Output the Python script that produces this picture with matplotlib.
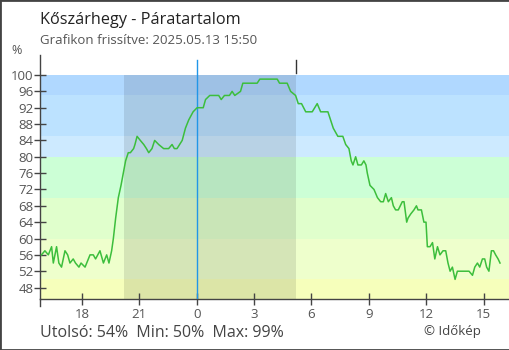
import matplotlib
matplotlib.use("Agg")
import numpy as np
from matplotlib import pyplot as plt
from matplotlib.patches import Rectangle

plt.rcParams["font.family"] = ["Open Sans", "DejaVu Sans"]

# hours relative to midnight, relative humidity in %
hours = [-8.12, -7.94, -7.76, -7.59, -7.50, -7.33, -7.21, -7.07, -6.89, -6.75,
         -6.63, -6.46, -6.34, -6.16, -6.05, -5.84, -5.58, -5.41, -5.29, -5.06,
         -4.88, -4.71, -4.59, -4.45, -4.36, -4.24, -4.10, -3.96, -3.84, -3.72,
         -3.58, -3.47, -3.30, -3.23, -3.12, -2.95, -2.77, -2.63, -2.51, -2.34,
         -2.20, -1.99, -1.73, -1.47, -1.29, -1.17, -1.03, -0.76, -0.59, -0.42,
         -0.19, 0.02, 0.34, 0.46, 0.68, 1.15, 1.28, 1.45, 1.71, 1.85,
         1.99, 2.29, 2.41, 3.16, 3.30, 4.21, 4.33, 4.73, 4.91, 5.17,
         5.31, 5.48, 5.70, 6.04, 6.30, 6.48, 6.86, 7.00, 7.14, 7.26,
         7.38, 7.64, 7.79, 7.96, 8.08, 8.17, 8.31, 8.43, 8.61, 8.74,
         8.85, 8.92, 9.06, 9.27, 9.45, 9.62, 9.76, 9.88, 10.02, 10.18,
         10.28, 10.40, 10.54, 10.75, 10.84, 10.98, 11.05, 11.19, 11.36, 11.49,
         11.57, 11.75, 11.88, 11.99, 12.06, 12.20, 12.33, 12.45, 12.59, 12.72,
         12.88, 13.02, 13.14, 13.25, 13.37, 13.51, 13.63, 14.24, 14.42, 14.54,
         14.68, 14.80, 14.94, 15.06, 15.16, 15.28, 15.41, 15.52, 15.63, 15.76,
         15.86]
humidity = [56, 57, 56, 58, 54, 58, 54, 53, 57, 56,
            54, 55, 54, 53, 54, 53, 56, 56, 55, 57,
            54, 56, 54, 57, 60, 65, 70, 73, 76, 79,
            81, 81, 82, 83, 85, 84, 83, 82, 81, 82,
            84, 83, 82, 82, 83, 82, 82, 84, 87, 89,
            91, 92, 92, 94, 95, 95, 94, 95, 95, 96,
            95, 96, 98, 98, 99, 99, 98, 98, 96, 95,
            93, 93, 91, 91, 93, 91, 91, 89, 87, 86,
            85, 85, 83, 82, 79, 78, 80, 78, 78, 79,
            78, 76, 73, 72, 70, 69, 69, 71, 69, 70,
            68, 67, 67, 69, 69, 64, 65, 66, 67, 68,
            67, 67, 64, 64, 58, 58, 59, 55, 58, 56,
            57, 57, 54, 52, 53, 50, 52, 52, 51, 53,
            54, 53, 55, 55, 53, 52, 57, 57, 56, 55,
            54]

# humidity bands: (low, high, colour)
bands = [(45.2, 50, "#f6ffbb"), (50, 60, "#eeffcc"), (60, 70, "#e0ffcc"),
         (70, 80, "#ccffd6"), (80, 85, "#cdeaff"), (85, 95, "#bce2ff"),
         (95, 100, "#b0d8ff")]

sunset, sunrise = -3.79, 5.17
x_ticks = [-6, -3, 0, 3, 6, 9, 12, 15]
x_labels = ["18", "21", "0", "3", "6", "9", "12", "15"]
y_ticks = [48, 52, 56, 60, 64, 68, 72, 76, 80, 84, 88, 92, 96, 100]

fig = plt.figure(figsize=(5.1, 3.5), dpi=100)
ax = fig.add_axes([40.5 / 510, 51 / 350, (509 - 40.5) / 510, (299 - 55) / 350])
ax.set_xlim(-8.17, 16.33)
ax.set_ylim(45.2, 104.9)

for lo, hi, c in bands:
    ax.axhspan(lo, hi, color=c, lw=0, zorder=0)
ax.add_patch(Rectangle((sunset, 45.2), sunrise - sunset, 100 - 45.2,
                       facecolor="black", alpha=0.1, lw=0, zorder=1))

ax.plot([0, 0], [45.2, 103.7], color="#2196e8", lw=1, zorder=3)
ax.plot([sunrise, sunrise], [100.5, 103.7], color="#333333", lw=1, zorder=3)
ax.plot(hours, humidity, color="#3cbe3c", lw=1.1, zorder=4)

for s in ["top", "right"]:
    ax.spines[s].set_visible(False)
for s in ["left", "bottom"]:
    ax.spines[s].set_color("#444444")
    ax.spines[s].set_linewidth(1)
ax.plot([0, 0], [-0.03, 0], transform=ax.transAxes, color="#444444", lw=1, clip_on=False)

ax.set_xticks(x_ticks)
ax.set_xticklabels(x_labels)
ax.set_yticks(y_ticks)
ax.tick_params(direction="inout", length=8.5, width=1, color="#444444",
               labelcolor="#555555", labelsize=9.5)
ax.tick_params(axis="x", pad=2)
ax.tick_params(axis="y", pad=1)

fig.text(40 / 510, 1 - 20 / 350, "Kőszárhegy - Páratartalom", fontsize=11.7,
         color="#222222", va="center")
fig.text(40 / 510, 1 - 41 / 350, "Grafikon frissítve: 2025.05.13 15:50",
         fontsize=9.5, color="#555555", va="center")
fig.text(17 / 510, 1 - 51 / 350, "%", fontsize=9,
         color="#555555", va="center", ha="center")
fig.text(40 / 510, 1 - 333 / 350, "Utolsó: 54%  Min: 50%  Max: 99%",
         fontsize=11.5, color="#444444", va="center")
fig.text(481 / 510, 1 - 331 / 350, "© Időkép", fontsize=9.5,
         color="#444444", va="center", ha="right")

fig.add_artist(Rectangle((0, 0), 1, 1, transform=fig.transFigure, fill=False,
                         edgecolor="#444444", lw=2))

fig.savefig("out.png", dpi=100)
